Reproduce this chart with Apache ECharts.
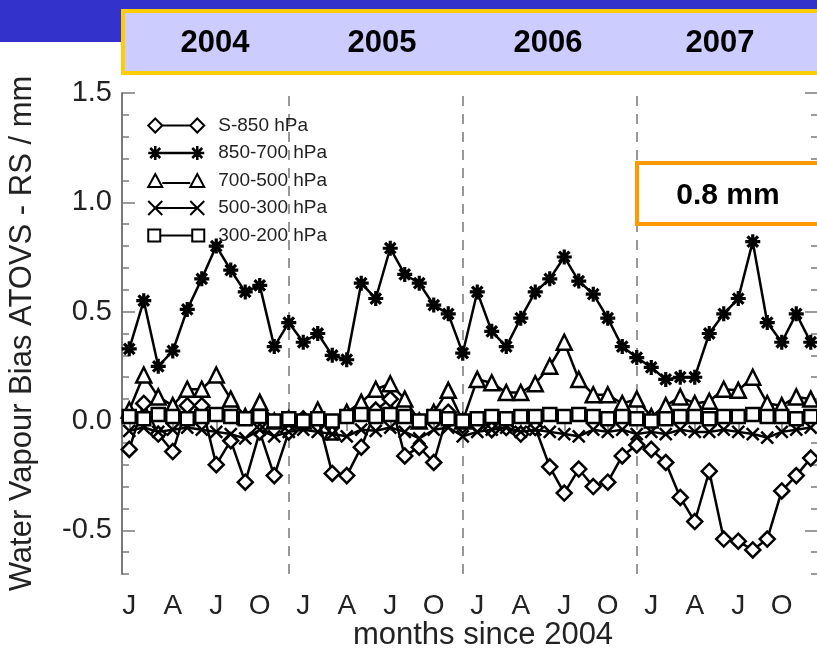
<!DOCTYPE html>
<html><head><meta charset="utf-8">
<script src="https://cdn.jsdelivr.net/npm/echarts@6/dist/echarts.min.js"></script>
<style>html,body{margin:0;padding:0;background:#fff}#c{width:817px;height:650px}</style>
</head><body><div id="c"></div>
<script>
// ---- data ----
const months = [1,2,3,4,5,6,7,8,9,10,11,12,13,14,15,16,17,18,19,20,21,22,23,24,
                25,26,27,28,29,30,31,32,33,34,35,36,37,38,39,40,41,42,43,44,45,46,47,48];
const seriesNames = ['S-850 hPa','850-700 hPa','700-500 hPa','500-300 hPa','300-200 hPa'];
const sS850 = [-0.13, 0.08, -0.06, -0.14, 0.07, 0.07, -0.20, -0.09, -0.28, -0.05, -0.25, -0.05,
               0.01, 0.02, -0.24, -0.25, -0.12, 0.05, 0.10, -0.16, -0.12, -0.19, 0.04, -0.02,
               -0.02, -0.04, -0.03, -0.06, -0.03, -0.21, -0.33, -0.22, -0.30, -0.28, -0.16, -0.11,
               -0.13, -0.19, -0.35, -0.46, -0.23, -0.54, -0.55, -0.59, -0.54, -0.32, -0.25, -0.17];
const s850_700 = [0.33, 0.55, 0.25, 0.32, 0.51, 0.65, 0.80, 0.69, 0.59, 0.62, 0.34, 0.45,
                  0.36, 0.40, 0.30, 0.28, 0.63, 0.56, 0.79, 0.67, 0.63, 0.53, 0.49, 0.31,
                  0.59, 0.41, 0.34, 0.47, 0.59, 0.65, 0.75, 0.64, 0.58, 0.47, 0.34, 0.29,
                  0.245, 0.19, 0.20, 0.20, 0.40, 0.49, 0.56, 0.82, 0.45, 0.36, 0.49, 0.36];
const s700_500 = [0.05, 0.21, 0.11, 0.07, 0.145, 0.145, 0.21, 0.10, 0.02, 0.085, 0.00, 0.01,
                  0.00, 0.05, -0.05, 0.04, 0.085, 0.145, 0.17, 0.10, 0.00, 0.04, 0.14, 0.00,
                  0.19, 0.175, 0.13, 0.13, 0.17, 0.25, 0.36, 0.19, 0.12, 0.12, 0.08, 0.10,
                  0.02, 0.07, 0.11, 0.08, 0.09, 0.145, 0.14, 0.20, 0.08, 0.07, 0.11, 0.10];
const s500_300 = [-0.045, -0.03, -0.05, -0.04, -0.03, -0.04, -0.05, -0.06, -0.08, -0.04, -0.07, -0.05,
                  -0.04, -0.05, -0.06, -0.07, -0.04, -0.045, -0.03, -0.05, -0.08, -0.04, -0.03, -0.07,
                  -0.05, -0.04, -0.03, -0.05, -0.04, -0.05, -0.06, -0.07, -0.04, -0.05, -0.04, -0.06,
                  -0.05, -0.06, -0.04, -0.05, -0.05, -0.04, -0.05, -0.06, -0.076, -0.05, -0.04, -0.03];
const s300_200 = [0.02, 0.01, 0.03, 0.02, 0.01, 0.02, 0.03, 0.02, 0.01, 0.02, 0.00, 0.01,
                  0.00, 0.01, 0.00, 0.02, 0.03, 0.02, 0.03, 0.02, 0.00, 0.02, 0.01, 0.00,
                  0.01, 0.02, 0.01, 0.02, 0.02, 0.03, 0.02, 0.03, 0.02, 0.01, 0.02, 0.01,
                  0.00, 0.01, 0.02, 0.02, 0.01, 0.02, 0.02, 0.03, 0.02, 0.02, 0.01, 0.02];
const xTickMonths = [1,4,7,10,13,16,19,22,25,28,31,34,37,40,43,46];
const monthLetters = ['J','A','J','O'];
const yearBoundaries = [12,24,36];
const yearLabels = ['2004','2005','2006','2007'];
const yMajorTicks = [-0.5, 0.0, 0.5, 1.0, 1.5];
const yMinorTicks = [-0.7,-0.6,-0.4,-0.3,-0.2,-0.1,0.1,0.2,0.3,0.4,0.6,0.7,0.8,0.9,1.1,1.2,1.3,1.4];
const annotationText = '0.8 mm';

// ---- styling ----
const FONT = 'Liberation Sans, Arial, Helvetica, sans-serif';
const AX = '#7a7a7a';
const symAst = 'path://M5 0L5 10M0 5L10 5M1.5 1.5L8.5 8.5M8.5 1.5L1.5 8.5';
const symX = 'path://M0 0L10 10M10 0L0 10';
const symbols = ['diamond', symAst, 'triangle', symX, 'rect'];
const symSizes = [15, 15, 15, 12, 13];
const legendIcons = [
  'path://M7 0L14 7L7 14L0 7ZM14 7L42 7M49 0L56 7L49 14L42 7Z',
  'path://M7 0L7 14M0 7L14 7M2 2L12 12M12 2L2 12M7 7L49 7M49 0L49 14M42 7L56 7M44 2L54 12M54 2L44 12',
  'path://M7 0L14 13L0 13ZM14 9L42 9M49 0L56 13L42 13Z',
  'path://M0 0L14 14M14 0L0 14M7 7L49 7M42 0L56 14M56 0L42 14',
  'path://M0 1L12 1L12 13L0 13ZM12 7L44 7M44 1L56 1L56 13L44 13Z'
];
const allData = [sS850, s850_700, s700_500, s500_300, s300_200];

const series = allData.map((vals, i) => ({
  name: seriesNames[i],
  type: 'line',
  xAxisIndex: 0, yAxisIndex: 0,
  data: months.map((m, k) => [m, vals[k]]),
  symbol: symbols[i],
  symbolSize: symSizes[i],
  showAllSymbol: true,
  lineStyle: { color: '#000', width: 2.5 },
  itemStyle: { color: i === 1 ? '#000' : '#fff', borderColor: '#000', borderWidth: i === 1 ? 3.2 : 2.5 },
  emphasis: { disabled: true },
  z: 3 + i
}));
series[0].markLine = {
  silent: true, symbol: 'none', label: { show: false },
  lineStyle: { type: [10, 8], color: '#777', width: 1.5 },
  data: yearBoundaries.map(v => ({ xAxis: v })),
  z: 1
};

const chart = echarts.init(document.getElementById('c'), null, { renderer: 'canvas' });
const axisLineStyle = { lineStyle: { color: AX, width: 2 } };
chart.setOption({
  animation: false,
  backgroundColor: '#fff',
  grid: { left: 122, top: 93, width: 696, height: 481, containLabel: false, outerBoundsMode: 'none' },
  xAxis: [
    { type: 'value', min: 0.5, max: 48.5, position: 'bottom',
      axisLine: axisLineStyle,
      axisTick: { inside: true, length: 10, customValues: xTickMonths, lineStyle: { color: AX, width: 1.5 } },
      axisLabel: { customValues: xTickMonths, margin: 18, fontSize: 28, color: '#222', fontFamily: FONT,
        formatter: v => monthLetters[Math.round((v - 1) / 3) % 4] },
      splitLine: { show: false },
      name: 'months since 2004', nameLocation: 'middle', nameGap: 46, nameMoveOverlap: false,
      nameTextStyle: { fontSize: 31, color: '#222', fontFamily: FONT, padding: [0, 0, 0, 26] } },
    { type: 'value', min: 0.5, max: 48.5, position: 'top',
      axisLine: axisLineStyle,
      axisTick: { inside: true, length: 10, customValues: xTickMonths, lineStyle: { color: AX, width: 1.5 } },
      axisLabel: { show: false }, splitLine: { show: false } }
  ],
  yAxis: [
    { type: 'value', min: -0.7, max: 1.5, position: 'left',
      axisLine: { show: true, lineStyle: { color: AX, width: 2 } },
      axisTick: { show: true, inside: true, length: 13, customValues: yMajorTicks, lineStyle: { color: AX, width: 1.5 } },
      axisLabel: { customValues: yMajorTicks, margin: 10, fontSize: 29, color: '#222', fontFamily: FONT,
        formatter: v => v.toFixed(1) },
      splitLine: { show: false },
      name: 'Water Vapour Bias ATOVS - RS / mm', nameLocation: 'middle', nameGap: 84, nameMoveOverlap: false,
      nameTextStyle: { fontSize: 31, color: '#222', fontFamily: FONT } },
    { type: 'value', min: -0.7, max: 1.5, position: 'left',
      axisLine: { show: false },
      axisTick: { show: true, inside: true, length: 7, customValues: yMinorTicks, lineStyle: { color: AX, width: 1.5 } },
      axisLabel: { show: false }, splitLine: { show: false } },
    { type: 'value', min: -0.7, max: 1.5, position: 'right',
      axisLine: { show: true, lineStyle: { color: AX, width: 2 } },
      axisTick: { show: true, inside: true, length: 13, customValues: yMajorTicks, lineStyle: { color: AX, width: 1.5 } },
      axisLabel: { show: false }, splitLine: { show: false } },
    { type: 'value', min: -0.7, max: 1.5, position: 'right',
      axisLine: { show: false },
      axisTick: { show: true, inside: true, length: 7, customValues: yMinorTicks, lineStyle: { color: AX, width: 1.5 } },
      axisLabel: { show: false }, splitLine: { show: false } }
  ],
  legend: {
    orient: 'vertical', left: 147, top: 116, padding: 0, itemWidth: 56, itemHeight: 14, itemGap: 8.5,
    selectedMode: false,
    data: seriesNames.map((n, i) => ({ name: n, icon: legendIcons[i],
      itemStyle: { color: i === 1 ? '#000' : '#fff', borderColor: '#000', borderWidth: i === 1 ? 2.5 : 2 } })),
    textStyle: { fontFamily: FONT, fontSize: 19, color: '#222', lineHeight: 19, padding: [0, 0, 0, 9] }
  },
  series: series,
  graphic: [
    { type: 'rect', z: 100, shape: { x: 0, y: 0, width: 817, height: 42 }, style: { fill: '#3333CC' } },
    { type: 'rect', z: 101, shape: { x: 123, y: 11, width: 720, height: 62 },
      style: { fill: '#CCCCFF', stroke: '#FFCC00', lineWidth: 4 } },
    ...yearLabels.map((t, i) => ({ type: 'text', z: 102, x: [215, 382, 548, 720][i], y: 43,
      style: { text: t, font: 'bold 31px ' + FONT, fill: '#000', textAlign: 'center', textVerticalAlign: 'middle' } })),
    { type: 'rect', z: 101, shape: { x: 637, y: 163, width: 220, height: 61 },
      style: { fill: '#fff', stroke: '#FF9900', lineWidth: 4 } },
    { type: 'text', z: 102, x: 728, y: 196,
      style: { text: annotationText, font: 'bold 30px ' + FONT, fill: '#000', textAlign: 'center', textVerticalAlign: 'middle' } }
  ]
});
</script></body></html>
